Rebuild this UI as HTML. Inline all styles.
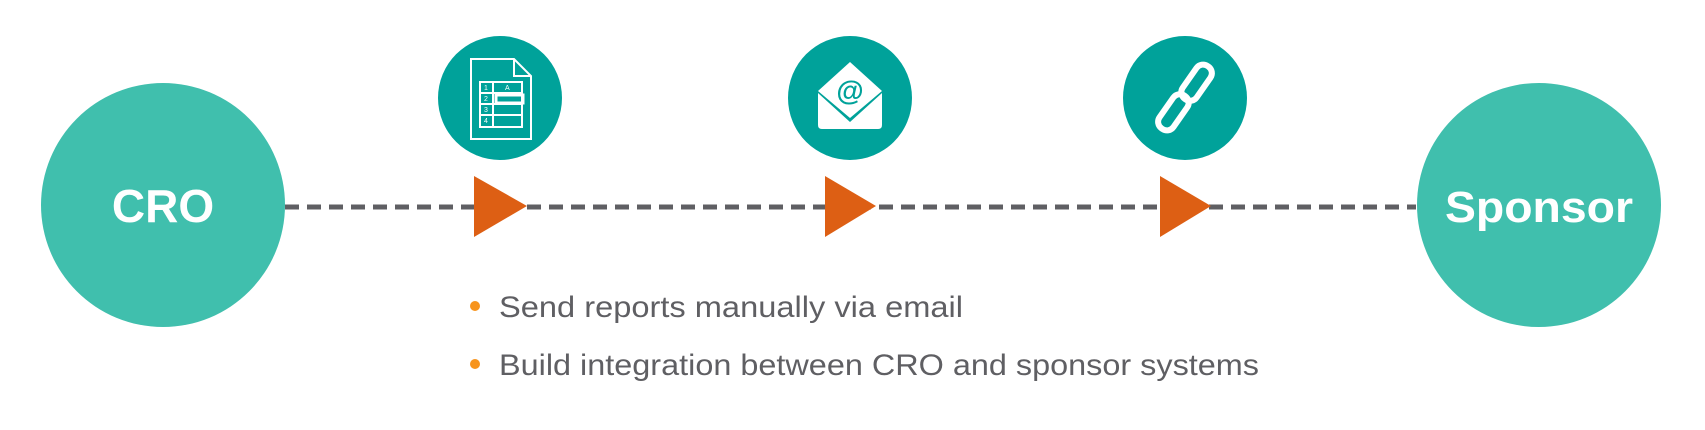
<!DOCTYPE html>
<html><head><meta charset="utf-8"><style>
html,body{margin:0;padding:0;background:#fff;}
svg{display:block}
</style></head><body>
<svg width="1705" height="430" viewBox="0 0 1705 430" xmlns="http://www.w3.org/2000/svg">
<line x1="285" y1="207" x2="1416" y2="207" stroke="#5f5f63" stroke-width="5" stroke-dasharray="14 8"/>
<circle cx="163" cy="205" r="122" fill="#40bfad"/>
<circle cx="1539" cy="205" r="122" fill="#40bfad"/>
<text x="163" y="222" text-anchor="middle" font-family="Liberation Sans, sans-serif" font-weight="bold" font-size="46" fill="#fff">CRO</text>
<text x="1539" y="222" text-anchor="middle" font-family="Liberation Sans, sans-serif" font-weight="bold" font-size="44" fill="#fff" textLength="188" lengthAdjust="spacingAndGlyphs">Sponsor</text>
<polygon points="474,176 527,206 474,237" fill="#dd5f14"/>
<polygon points="825,176 876,206 825,237" fill="#dd5f14"/>
<polygon points="1160,176 1211,206 1160,237" fill="#dd5f14"/>
<circle cx="500" cy="98" r="62" fill="#00a29a"/>
<circle cx="850" cy="98" r="62" fill="#00a29a"/>
<circle cx="1185" cy="98" r="62" fill="#00a29a"/>
<!-- doc icon -->
<g fill="none" stroke="#fff" stroke-width="2">
<path d="M471,59 H514 L531,76 V139 H471 Z"/>
<path d="M514,59 V76 H531"/>
<rect x="480" y="82" width="42" height="45"/>
<line x1="480" y1="93" x2="522" y2="93"/><line x1="480" y1="104" x2="522" y2="104"/><line x1="480" y1="115" x2="522" y2="115"/>
<line x1="493" y1="82" x2="493" y2="127"/>
<rect x="496" y="95" width="27" height="8" stroke-width="3"/>
</g>
<g font-family="Liberation Sans, sans-serif" font-size="7" fill="#fff"><text x="484" y="90">1</text><text x="484" y="101">2</text><text x="484" y="112">3</text><text x="484" y="123">4</text><text x="505" y="90">A</text></g>
<!-- email icon -->
<path d="M818,93 L850,122 L882,93 V125 Q882,129 878,129 H822 Q818,129 818,125 Z" fill="#fff"/>
<path d="M818,91 L850,62 L882,91 L850,118 Z" fill="#fff"/>
<text x="850" y="100" text-anchor="middle" font-family="Liberation Sans, sans-serif" font-weight="bold" font-size="28" fill="#00a29a">@</text>
<!-- link icon -->
<g fill="none" stroke="#fff" stroke-width="6" stroke-linecap="round">
<rect x="1188" y="63" width="17" height="40" rx="8" transform="rotate(35 1197 83)"/>
<rect x="1165" y="92" width="17" height="40" rx="8" transform="rotate(35 1173 112)"/>
</g>
<circle cx="475" cy="306" r="5" fill="#f7941d"/>
<circle cx="475" cy="364" r="5" fill="#f7941d"/>
<text x="499" y="317" font-family="Liberation Sans, sans-serif" font-size="30" fill="#5f5f63" textLength="464" lengthAdjust="spacingAndGlyphs">Send reports manually via email</text>
<text x="499" y="375" font-family="Liberation Sans, sans-serif" font-size="30" fill="#5f5f63" textLength="760" lengthAdjust="spacingAndGlyphs">Build integration between CRO and sponsor systems</text>
</svg>
</body></html>
